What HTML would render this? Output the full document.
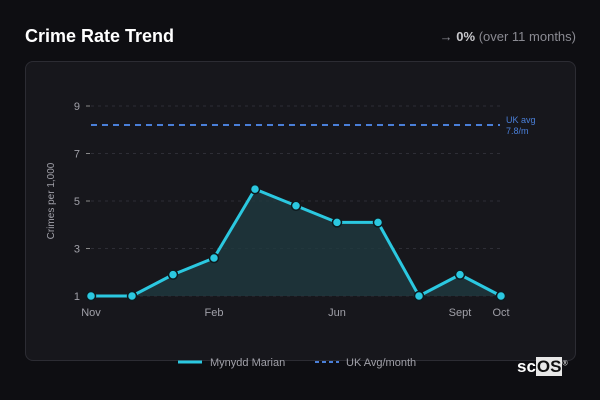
<!DOCTYPE html>
<html><head><meta charset="utf-8">
<style>
body{margin:0;width:600px;height:400px;background:#0e0e12;font-family:"Liberation Sans",sans-serif;overflow:hidden;position:relative}
.title{position:absolute;left:25px;top:26px;color:#fff;font-size:18px;font-weight:bold}
.change{position:absolute;right:24px;top:29px;color:#8a8a92;font-size:13px}
.change b{color:#c8c8cc}
.panel{position:absolute;left:25px;top:61px;width:549px;height:298px;border:1px solid #2c2c33;border-radius:8px;background:#17171c}
.logo{position:absolute;left:517px;top:357px;color:#fff;font-size:17px;font-weight:bold}
.logo span{background:#e8e8e8;color:#111;padding:0 1px}
</style></head><body>
<div class="title">Crime Rate Trend</div>
<div class="change">→ <b>0%</b> (over 11 months)</div>
<div class="panel"></div>
<svg id="chart" width="600" height="400" style="position:absolute;left:0;top:0"></svg>
<div class="logo">sc<span>OS</span><sup style="font-size:7px;font-weight:normal">®</sup></div>
<script>
const categories=['Nov','Dec','Jan','Feb','Mar','Apr','May','Jun','Jul','Aug','Sept','Oct'];
const xLabels=['Nov','','','Feb','','','Jun','','','Sept','Oct'];
const values=[1,1,1.9,2.6,5.5,4.8,4.1,4.1,1,1.9,1];
const yTicks=[1,3,5,7,9];
const ukAvg=8.2;
const ukLabel=['UK avg','7.8/m'];
const NS='http://www.w3.org/2000/svg';
const svg=document.getElementById('chart');
const x=i=>91+i*(410/(values.length-1));
const y=v=>296-(v-1)*23.75;
function el(t,a){const e=document.createElementNS(NS,t);for(const k in a)e.setAttribute(k,a[k]);svg.appendChild(e);return e;}
yTicks.forEach(t=>{
 const g=el('line',{x1:91,x2:500,y1:y(t),y2:y(t),stroke:'#2e2e36','stroke-dasharray':'3,4'});
 
 
 el('line',{x1:86,x2:90,y1:y(t),y2:y(t),stroke:'#888'});
 const tx=el('text',{x:80,y:y(t)+4,'text-anchor':'end',fill:'#a0a0a8','font-size':11});
 tx.textContent=t;
 
 
});
xLabels.forEach((l,i)=>{if(!l)return;
 const tx=el('text',{x:x(i),y:316,'text-anchor':'middle',fill:'#a0a0a8','font-size':11});
 tx.textContent=l;
 
 
});
const yt=el('text',{x:0,y:0,transform:'translate(54,201) rotate(-90)','text-anchor':'middle',fill:'#a0a0a8','font-size':10});
yt.textContent='Crimes per 1,000';


const ul=el('line',{x1:91,x2:500,y1:y(ukAvg),y2:y(ukAvg),stroke:'#4a7fd8','stroke-width':2,'stroke-dasharray':'6,5'});


ukLabel.forEach((s,i)=>{const t=el('text',{x:506,y:y(ukAvg)-2+i*11,fill:'#4a7fd8','font-size':9});t.textContent=s;
 
 });
let d=values.map((v,i)=>(i?'L':'M')+x(i)+','+y(v)).join('');
const area=el('path',{d:d+'L'+x(values.length-1)+','+y(1)+'L'+x(0)+','+y(1)+'Z',fill:'#1f3a40',opacity:0.8});


const line=el('path',{d:d,fill:'none',stroke:'#2bc8e0','stroke-width':3,'stroke-linejoin':'round'});


values.forEach((v,i)=>{const c=el('circle',{cx:x(i),cy:y(v),r:4.5,fill:'#2bc8e0',stroke:'#0e1a1e','stroke-width':1.5});
 
 });
const l1=el('line',{x1:178,x2:202,y1:362,y2:362,stroke:'#2bc8e0','stroke-width':3});


const t1=el('text',{x:210,y:366,fill:'#a0a0a8','font-size':11});t1.textContent='Mynydd Marian';


const l2=el('line',{x1:315,x2:339,y1:362,y2:362,stroke:'#4a7fd8','stroke-width':2,'stroke-dasharray':'4,3'});


const t2=el('text',{x:346,y:366,fill:'#a0a0a8','font-size':11});t2.textContent='UK Avg/month';


</script>
</body></html>
